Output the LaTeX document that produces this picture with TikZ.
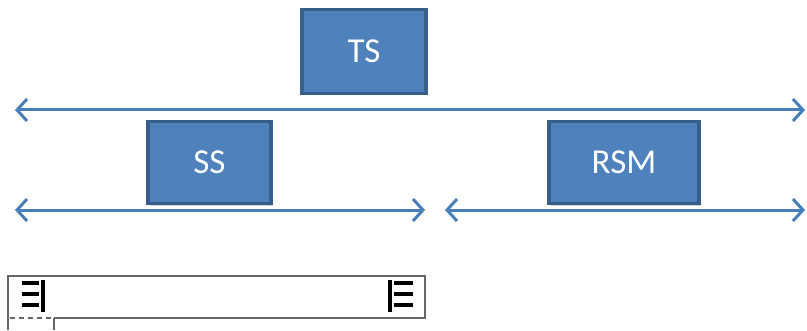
\documentclass[tikz,border=0pt]{standalone}
\usepackage{fontspec}
\setmainfont{Carlito}
\usetikzlibrary{arrows.meta,shadows}
\definecolor{boxfill}{HTML}{4F81BD}
\definecolor{boxedge}{HTML}{385D8A}
\definecolor{arrowblue}{HTML}{4A7EBB}
\tikzset{
  x=1pt, y=1pt,
  block/.style={draw=boxedge, line width=3.5pt, fill=boxfill, text=white,
    font=\fontsize{35}{38}\selectfont, inner sep=0pt,
    drop shadow={shadow xshift=2pt, shadow yshift=-2pt, opacity=0.35}},
  span/.style={draw=arrowblue, line width=3pt,
    {Straight Barb[length=10pt, width=22pt, line width=3pt]}-{Straight Barb[length=10pt, width=22pt, line width=3pt]}},
  bar/.style={line width=3.5pt},
}
\begin{document}
\begin{tikzpicture}
\useasboundingbox (0,0) rectangle (807,330);
% blocks
\node[block, minimum width=124pt, minimum height=84pt] (ts) at (364,278.5) {TS};
\node[block, minimum width=123pt, minimum height=82pt] (ss) at (209.5,167.5) {SS};
\node[block, minimum width=150pt, minimum height=82pt] (rsm) at (624,167.5) {RSM};
% span arrows
\coordinate (tl) at (15,220);
\coordinate (tr) at (805,220);
\coordinate (sl) at (15,120);
\coordinate (sr) at (425,120);
\coordinate (rl) at (445,120);
\coordinate (rr) at (805,120);
\draw[span] (tl) -- (tr);
\draw[span] (sl) -- (sr);
\draw[span] (rl) -- (rr);
% ruler bar with alignment markers
\draw[gray!80!black, line width=1.5pt] (8,0) -- (8,54) -- (425,54) -- (425,12) -- (54,12);
\draw[gray!80!black, line width=1.5pt, dash pattern=on 5pt off 4pt] (10,12) -- (52,12);
\draw[gray!80!black, line width=1.5pt] (54,12) -- (54,0);
% right-aligned marker
\draw[bar] (22,47) -- (39,47);
\draw[bar] (22,36) -- (39,36);
\draw[bar] (22,25) -- (39,25);
\draw[line width=4pt] (43,50) -- (43,18);
% left-aligned marker
\draw[line width=4pt] (390,50) -- (390,18);
\draw[bar] (394,47) -- (413,47);
\draw[bar] (394,36) -- (413,36);
\draw[bar] (394,25) -- (413,25);
\end{tikzpicture}
\end{document}
